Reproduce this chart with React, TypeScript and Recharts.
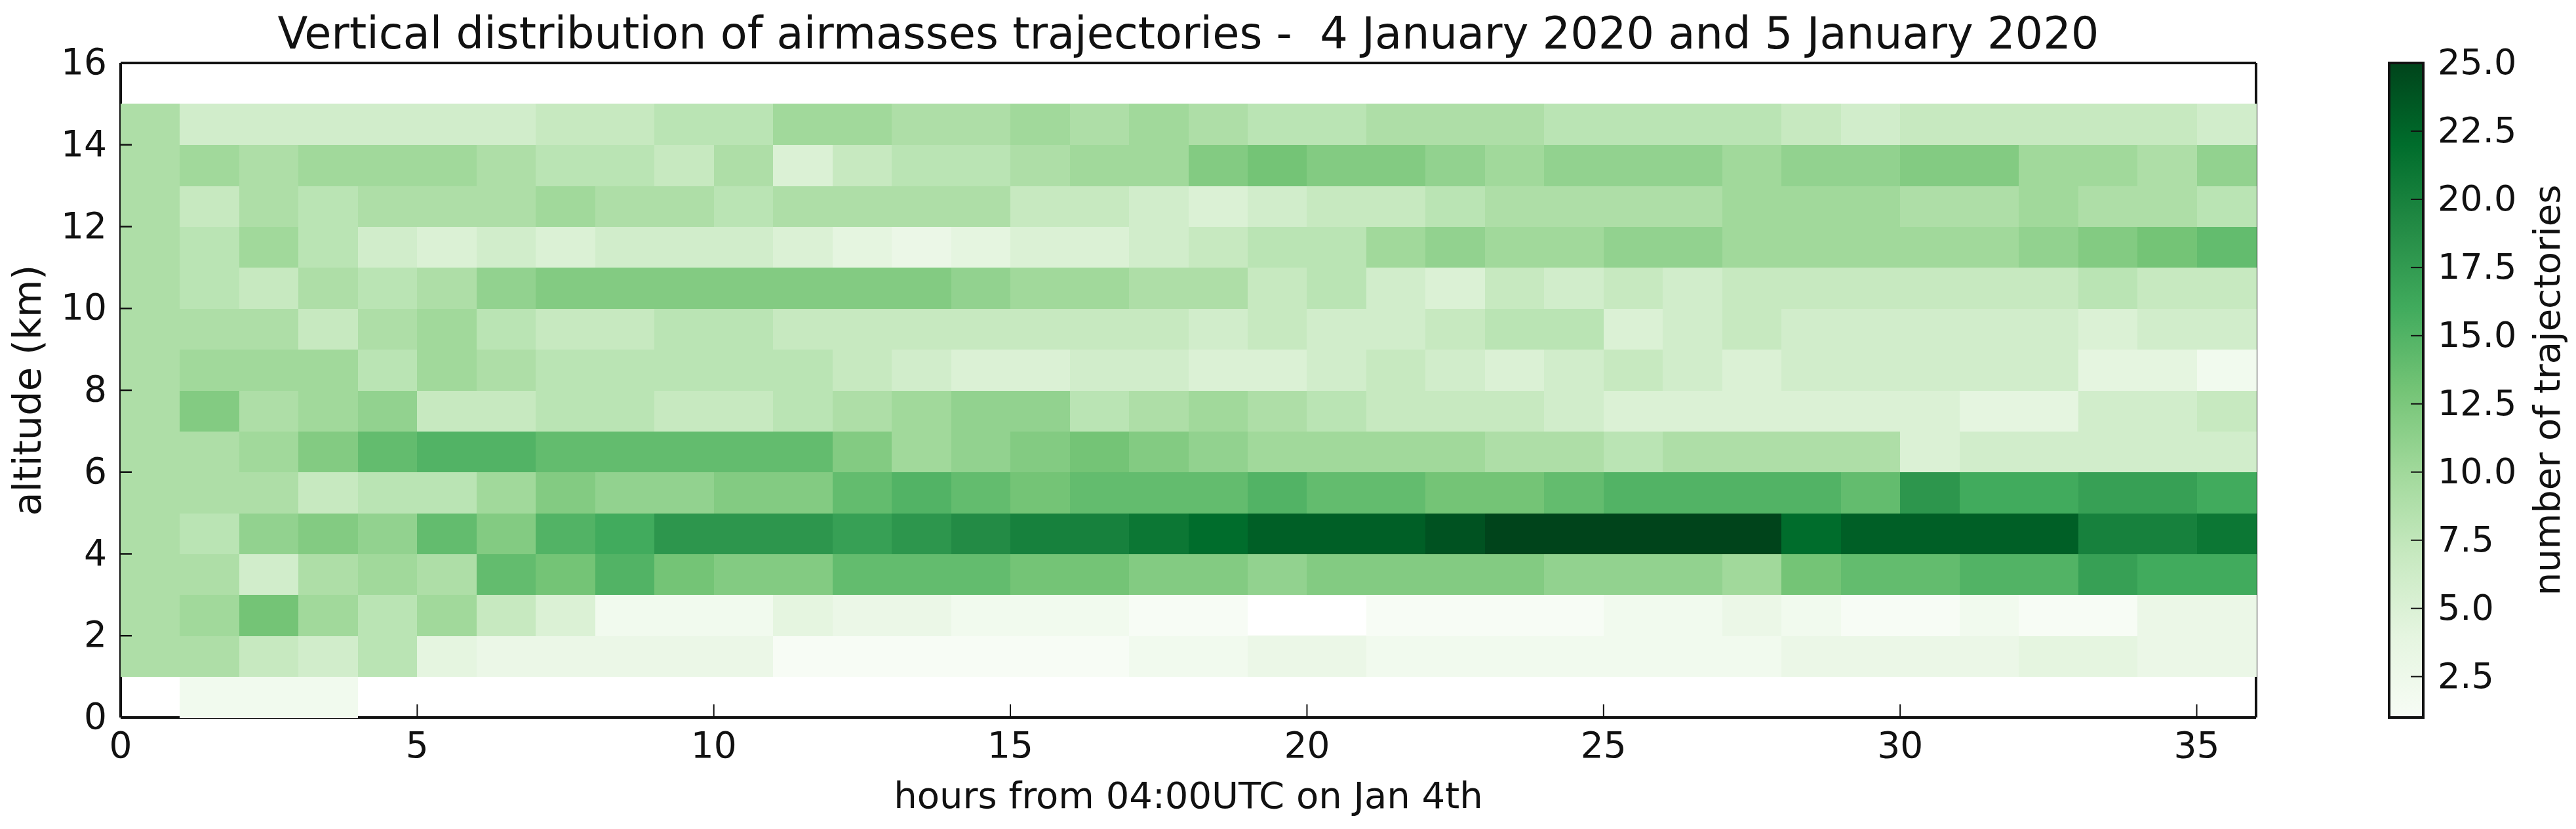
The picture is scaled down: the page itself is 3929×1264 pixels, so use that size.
import React from 'react';
import {
  Bar,
  BarChart,
  Label,
  Scatter,
  ScatterChart,
  XAxis,
  YAxis,
} from 'recharts';

// counts per hour (0..35), one list per 1 km altitude bin, 0 = no trajectories
const alt0 = [0, 2, 2, 2, 0, 0, 0, 0, 0, 0, 0, 0, 0, 0, 0, 0, 0, 0, 0, 0, 0, 0, 0, 0, 0, 0, 0, 0, 0, 0, 0, 0, 0, 0, 0, 0];
const alt1 = [9, 9, 7, 6, 8, 4, 3, 3, 3, 3, 3, 1, 1, 1, 1, 1, 1, 2, 2, 3, 3, 2, 2, 2, 2, 2, 2, 2, 3, 3, 3, 3, 4, 4, 3, 3];
const alt2 = [9, 10, 13, 10, 8, 10, 7, 5, 2, 2, 2, 4, 3, 3, 2, 2, 2, 1, 1, 0, 0, 1, 1, 1, 1, 2, 2, 3, 2, 1, 1, 2, 1, 1, 3, 3];
const alt3 = [9, 9, 6, 9, 10, 9, 14, 13, 15, 13, 12, 12, 14, 14, 14, 13, 13, 12, 12, 11, 12, 12, 12, 12, 11, 11, 11, 10, 13, 14, 14, 15, 15, 17, 16, 16];
const alt4 = [9, 8, 11, 12, 11, 14, 12, 15, 16, 18, 18, 18, 17, 18, 19, 20, 20, 21, 22, 23, 23, 23, 24, 25, 25, 25, 25, 25, 22, 23, 23, 23, 23, 20, 20, 21];
const alt5 = [9, 9, 9, 7, 8, 8, 10, 12, 11, 11, 12, 12, 14, 15, 14, 13, 14, 14, 14, 15, 14, 14, 13, 13, 14, 15, 15, 15, 15, 14, 18, 16, 16, 17, 17, 16];
const alt6 = [9, 9, 10, 12, 14, 15, 15, 14, 14, 14, 14, 14, 12, 10, 11, 12, 13, 12, 11, 10, 10, 10, 10, 9, 9, 8, 9, 9, 9, 9, 5, 6, 6, 6, 6, 6];
const alt7 = [9, 12, 9, 10, 11, 7, 7, 8, 8, 7, 7, 8, 9, 10, 11, 11, 8, 9, 10, 9, 8, 7, 7, 7, 6, 5, 5, 5, 5, 5, 5, 4, 4, 6, 6, 7];
const alt8 = [9, 10, 10, 10, 8, 10, 9, 8, 8, 8, 8, 8, 7, 6, 5, 5, 6, 6, 5, 5, 6, 7, 6, 5, 6, 7, 6, 5, 6, 6, 6, 6, 6, 4, 4, 2];
const alt9 = [9, 9, 9, 7, 9, 10, 8, 7, 7, 8, 8, 7, 7, 7, 7, 7, 7, 7, 6, 7, 6, 6, 7, 8, 8, 5, 6, 7, 6, 6, 6, 6, 6, 5, 6, 6];
const alt10 = [9, 8, 7, 9, 8, 9, 11, 12, 12, 12, 12, 12, 12, 12, 11, 10, 10, 9, 9, 7, 8, 6, 5, 7, 6, 7, 6, 7, 7, 7, 7, 7, 7, 8, 7, 7];
const alt11 = [9, 8, 10, 8, 6, 5, 6, 5, 6, 6, 6, 5, 4, 3, 4, 5, 5, 6, 7, 8, 8, 10, 11, 10, 10, 11, 11, 10, 10, 10, 10, 10, 11, 12, 13, 14];
const alt12 = [9, 7, 9, 8, 9, 9, 9, 10, 9, 9, 8, 9, 9, 9, 9, 7, 7, 6, 5, 6, 7, 7, 8, 9, 9, 9, 9, 10, 10, 10, 9, 9, 10, 9, 9, 8];
const alt13 = [9, 10, 9, 10, 10, 10, 9, 8, 8, 7, 9, 5, 7, 8, 8, 9, 10, 10, 12, 13, 12, 12, 11, 10, 11, 11, 11, 10, 11, 11, 12, 12, 10, 10, 9, 11];
const alt14 = [9, 6, 6, 6, 6, 6, 6, 7, 7, 8, 8, 10, 10, 9, 9, 10, 9, 10, 9, 8, 8, 9, 9, 9, 8, 8, 8, 8, 7, 6, 7, 7, 7, 7, 7, 6];
const altitudeBins = [alt0, alt1, alt2, alt3, alt4, alt5, alt6, alt7, alt8, alt9, alt10, alt11, alt12, alt13, alt14];

const xTicks = [0, 5, 10, 15, 20, 25, 30, 35];
const yTicks = [0, 2, 4, 6, 8, 10, 12, 14, 16];
const colorbarTicks = [2.5, 5, 7.5, 10, 12.5, 15, 17.5, 20, 22.5, 25];

// matplotlib Greens
const greens = ['#f7fcf5', '#e5f5e0', '#c7e9c0', '#a1d99b', '#74c476', '#41ab5d', '#238b45', '#006d2c', '#00441b'];
const vmin = 1;
const vmax = 25;

const PLOT_W = 3257;
const PLOT_H = 998;
const CELL_W = PLOT_W / 36;
const CELL_H = PLOT_H / 16;
const FONT = '"DejaVu Sans", sans-serif';
const INK = '#111';

const hexToRgb = (hex: string) => [1, 3, 5].map((i) => parseInt(hex.slice(i, i + 2), 16));

const colorFor = (count: number) => {
  const t = Math.min(1, Math.max(0, (count - vmin) / (vmax - vmin))) * (greens.length - 1);
  const i = Math.min(greens.length - 2, Math.floor(t));
  const a = hexToRgb(greens[i]);
  const b = hexToRgb(greens[i + 1]);
  const mix = a.map((c, k) => Math.round(c + (b[k] - c) * (t - i)));
  return `rgb(${mix[0]},${mix[1]},${mix[2]})`;
};

const cells = altitudeBins.flatMap((row, a) =>
  row.flatMap((count, h) => (count > 0 ? [{ hour: h + 0.5, altitude: a + 0.5, count }] : [])),
);

const Cell = ({ cx, cy, payload }: any) => (
  <rect
    x={cx - CELL_W / 2}
    y={cy - CELL_H / 2}
    width={CELL_W + 0.5}
    height={CELL_H + 0.5}
    fill={colorFor(payload.count)}
    shapeRendering="crispEdges"
  />
);

const BottomTick = ({ x, y, payload }: any) => (
  <g>
    <line x1={x} y1={y} x2={x} y2={y - 20} stroke={INK} strokeWidth={2} />
    <text x={x} y={y + 61} textAnchor="middle" fontFamily={FONT} fontSize={55} fill={INK}>
      {payload.value}
    </text>
  </g>
);

const TopTick = ({ x, y }: any) => <line x1={x} y1={y} x2={x} y2={y + 20} stroke={INK} strokeWidth={2} />;

const LeftTick = ({ x, y, payload }: any) => (
  <g>
    <line x1={x} y1={y} x2={x + 17} y2={y} stroke={INK} strokeWidth={2.5} />
    <text x={x - 21} y={y + 17} textAnchor="end" fontFamily={FONT} fontSize={55} fill={INK}>
      {payload.value}
    </text>
  </g>
);

const RightTick = ({ x, y }: any) => <line x1={x} y1={y} x2={x - 17} y2={y} stroke={INK} strokeWidth={2.5} />;

const ColorbarTick = ({ x, y, payload }: any) => (
  <g>
    <line x1={x} y1={y} x2={x - 19} y2={y} stroke={INK} strokeWidth={2} />
    <text x={x + 22} y={y + 17} textAnchor="start" fontFamily={FONT} fontSize={54} fill={INK}>
      {payload.value.toFixed(1)}
    </text>
  </g>
);

const TitleLabel = ({ viewBox }: any) => (
  <text
    x={viewBox.x + viewBox.width / 2}
    y={74}
    textAnchor="middle"
    fontFamily={FONT}
    fontSize={67}
    fill={INK}
    style={{ whiteSpace: 'pre' }}
  >
    Vertical distribution of airmasses trajectories -  4 January 2020 and 5 January 2020
  </text>
);

const XLabel = ({ viewBox }: any) => (
  <text x={viewBox.x + viewBox.width / 2} y={1232} textAnchor="middle" fontFamily={FONT} fontSize={56} fill={INK}>
    hours from 04:00UTC on Jan 4th
  </text>
);

const YLabel = ({ viewBox }: any) => {
  const cy = viewBox.y + viewBox.height / 2;
  return (
    <text x={62} y={cy} transform={`rotate(-90 62 ${cy})`} textAnchor="middle" fontFamily={FONT} fontSize={59} fill={INK}>
      altitude (km)
    </text>
  );
};

const ColorbarLabel = ({ viewBox }: any) => {
  const cy = viewBox.y + viewBox.height / 2;
  return (
    <text x={404} y={cy} transform={`rotate(-90 404 ${cy})`} textAnchor="middle" fontFamily={FONT} fontSize={56} fill={INK}>
      number of trajectories
    </text>
  );
};

const colorbarData = [{ name: 'counts', range: [vmin, vmax] }];

const App = () => (
  <div style={{ position: 'absolute', left: 0, top: 0, width: 3929, height: 1264, background: '#fff' }}>
    <div style={{ position: 'absolute', left: 0, top: 0 }}>
      <ScatterChart width={3929} height={1264} margin={{ top: 86, right: 478, bottom: 70, left: 84 }}>
        <XAxis
          xAxisId="top"
          orientation="top"
          type="number"
          domain={[0, 36]}
          ticks={xTicks}
          interval={0}
          height={10}
          tickSize={0}
          tickMargin={0}
          tickLine={false}
          axisLine={{ stroke: INK, strokeWidth: 4 }}
          tick={<TopTick />}
        >
          <Label content={<TitleLabel />} />
        </XAxis>
        <XAxis
          dataKey="hour"
          type="number"
          domain={[0, 36]}
          ticks={xTicks}
          interval={0}
          height={100}
          tickSize={0}
          tickMargin={0}
          tickLine={false}
          axisLine={{ stroke: INK, strokeWidth: 4 }}
          tick={<BottomTick />}
        >
          <Label content={<XLabel />} />
        </XAxis>
        <YAxis
          dataKey="altitude"
          type="number"
          domain={[0, 16]}
          ticks={yTicks}
          interval={0}
          width={100}
          tickSize={0}
          tickMargin={0}
          tickLine={false}
          axisLine={{ stroke: INK, strokeWidth: 4 }}
          tick={<LeftTick />}
        >
          <Label content={<YLabel />} />
        </YAxis>
        <YAxis
          yAxisId="right"
          orientation="right"
          type="number"
          domain={[0, 16]}
          ticks={yTicks}
          interval={0}
          width={10}
          tickSize={0}
          tickMargin={0}
          tickLine={false}
          axisLine={{ stroke: INK, strokeWidth: 4 }}
          tick={<RightTick />}
        />
        <Scatter data={cells} shape={<Cell />} isAnimationActive={false} />
      </ScatterChart>
    </div>
    <div style={{ position: 'absolute', left: 3500, top: 0 }}>
      <BarChart
        width={429}
        height={1264}
        data={colorbarData}
        barCategoryGap={0}
        margin={{ top: 96, right: 133, bottom: 170, left: 144 }}
      >
        <defs>
          <linearGradient id="greensBar" x1="0" y1="1" x2="0" y2="0">
            {greens.map((c, i) => (
              <stop key={c} offset={i / (greens.length - 1)} stopColor={c} />
            ))}
          </linearGradient>
        </defs>
        <XAxis dataKey="name" hide height={0} />
        <YAxis
          orientation="right"
          type="number"
          domain={[vmin, vmax]}
          ticks={colorbarTicks}
          interval={0}
          width={100}
          tickSize={0}
          tickMargin={0}
          tickLine={false}
          axisLine={false}
          tick={<ColorbarTick />}
        >
          <Label content={<ColorbarLabel />} />
        </YAxis>
        <Bar dataKey="range" fill="url(#greensBar)" stroke={INK} strokeWidth={4} isAnimationActive={false} />
      </BarChart>
    </div>
  </div>
);

export default App;
